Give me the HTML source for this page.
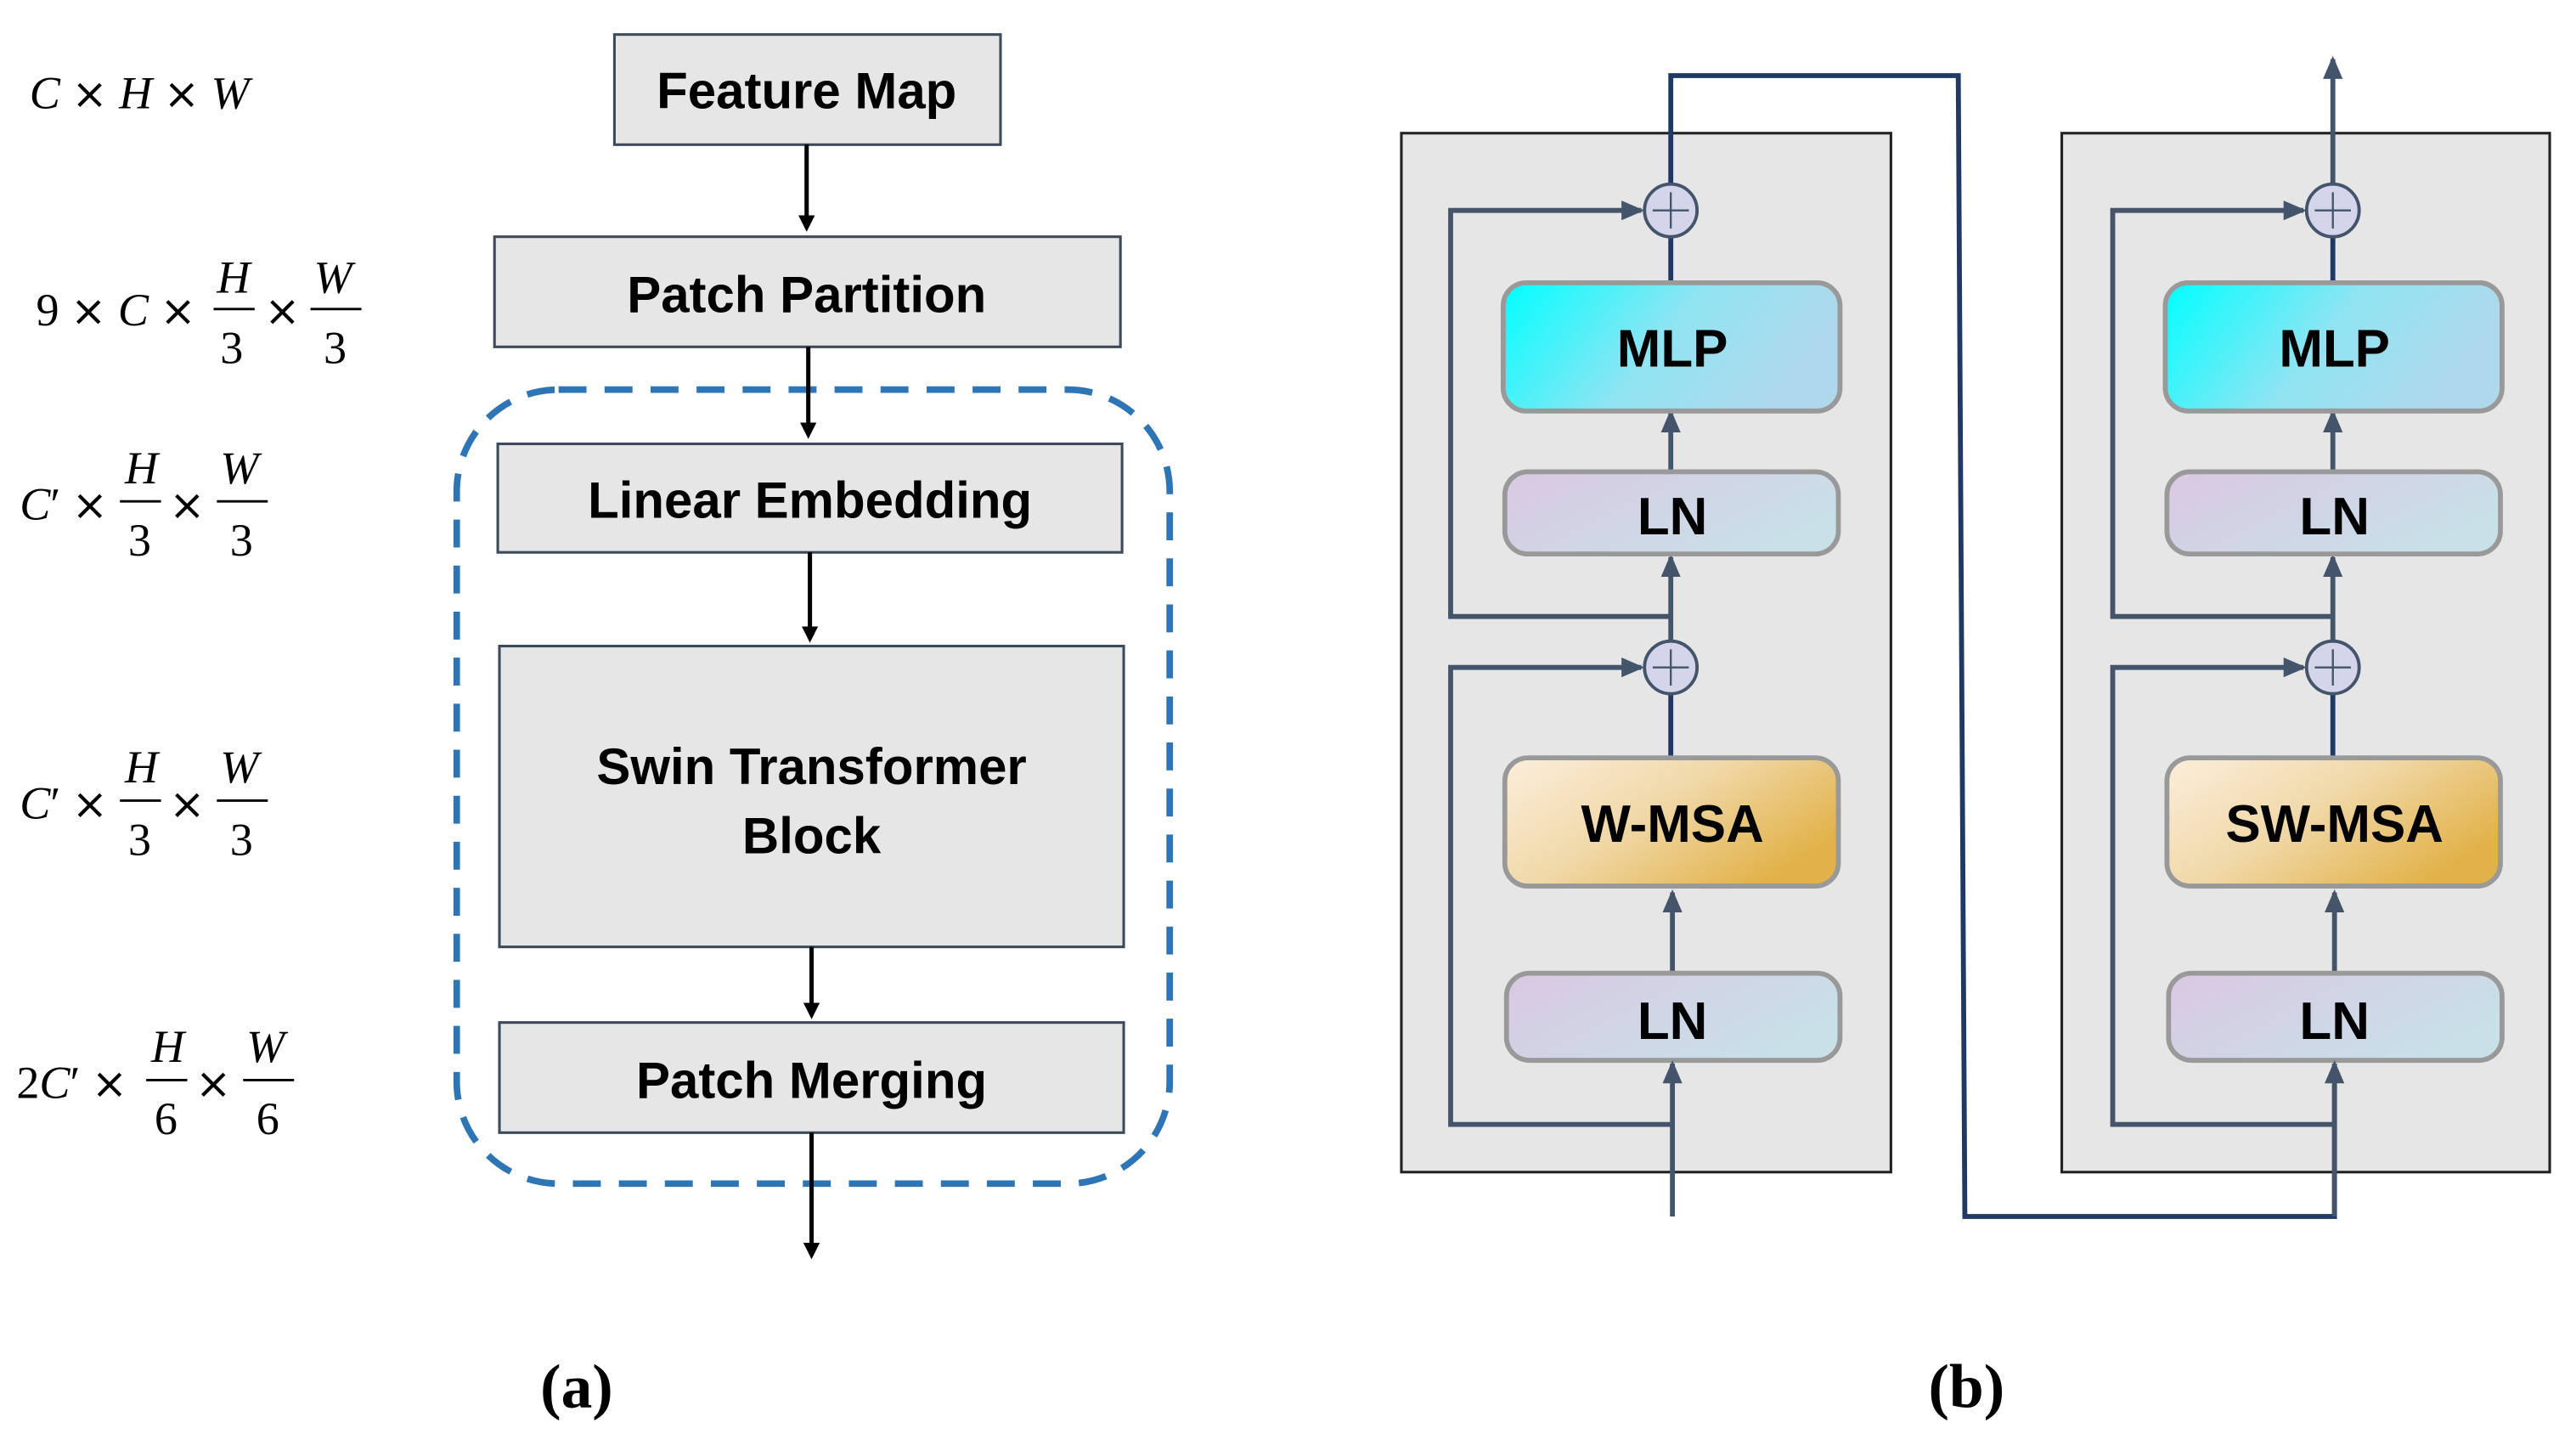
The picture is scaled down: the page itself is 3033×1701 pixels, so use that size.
<!DOCTYPE html>
<html><head><meta charset="utf-8"><style>
html,body{margin:0;padding:0;background:#fff;}
svg{display:block;}
.box{fill:#e6e6e6;stroke:#3d4a5c;stroke-width:1.6;}
.t{font-family:"Liberation Sans","DejaVu Sans",sans-serif;font-size:31px;text-anchor:middle;fill:#000;font-weight:bold;}
.m{font-family:"Liberation Serif",serif;font-size:28px;fill:#000;}
.x{font-family:"DejaVu Sans",sans-serif;font-size:26px;}
.mi{font-style:italic;}
.ln{stroke:#000;stroke-width:2.6;fill:none;}
.g{stroke:#44546a;stroke-width:3;fill:none;}
.nv{stroke:#1f3864;stroke-width:3;fill:none;}
.rb{stroke:#999;stroke-width:3;}
.bt{font-family:"Liberation Sans","DejaVu Sans",sans-serif;font-size:32px;text-anchor:middle;fill:#000;font-weight:bold;}
</style></head><body>
<svg width="3033" height="1701" viewBox="0 0 1568 879" preserveAspectRatio="none" xmlns="http://www.w3.org/2000/svg">
<defs>
<marker id="ab" markerWidth="10" markerHeight="10" refX="5" refY="5" orient="auto" markerUnits="userSpaceOnUse"><path d="M0,0 L10,5 L0,10 z" fill="#000"/></marker>
<marker id="ag" markerWidth="14" markerHeight="14" refX="12" refY="7" orient="auto" markerUnits="userSpaceOnUse"><path d="M0,1 L14,7 L0,13 z" fill="#44546a"/></marker>
<linearGradient id="mlp" x1="0" y1="0" x2="1" y2="0.3"><stop offset="0" stop-color="#00ffff"/><stop offset="0.55" stop-color="#90e4f2"/><stop offset="1" stop-color="#b0d8ec"/></linearGradient>
<linearGradient id="lnG" x1="0" y1="0" x2="1" y2="0.5"><stop offset="0" stop-color="#dac8e2"/><stop offset="1" stop-color="#c8e0e8"/></linearGradient>
<linearGradient id="msa" x1="0" y1="0" x2="1" y2="0.6"><stop offset="0" stop-color="#fbeedc"/><stop offset="0.5" stop-color="#f0d8a8"/><stop offset="1" stop-color="#e2b24a"/></linearGradient>
</defs>

<text class="m mi" x="18" y="66">C <tspan class="x" font-style="normal">×</tspan> H <tspan class="x" font-style="normal">×</tspan> W</text>
<text class="m" x="22" y="198">9 <tspan class="x">×</tspan> <tspan class="mi">C</tspan> <tspan class="x">×</tspan></text>
<text class="m mi" x="132" y="178">H</text><line x1="130" y1="188" x2="155" y2="188" stroke="#000" stroke-width="1.5"/><text class="m" x="134" y="221">3</text>
<text class="m x" x="161" y="198">×</text>
<text class="m mi" x="191" y="178">W</text><line x1="189" y1="188" x2="220" y2="188" stroke="#000" stroke-width="1.5"/><text class="m" x="197" y="221">3</text>

<text class="m" x="12" y="316"><tspan class="mi">C</tspan>′ <tspan class="x">×</tspan></text>
<text class="m mi" x="76" y="294">H</text><line x1="73" y1="305" x2="98" y2="305" stroke="#000" stroke-width="1.5"/><text class="m" x="78" y="338">3</text>
<text class="m x" x="103" y="316">×</text>
<text class="m mi" x="134" y="294">W</text><line x1="132" y1="305" x2="163" y2="305" stroke="#000" stroke-width="1.5"/><text class="m" x="140" y="338">3</text>

<text class="m" x="12" y="498"><tspan class="mi">C</tspan>′ <tspan class="x">×</tspan></text>
<text class="m mi" x="76" y="476">H</text><line x1="73" y1="487" x2="98" y2="487" stroke="#000" stroke-width="1.5"/><text class="m" x="78" y="520">3</text>
<text class="m x" x="103" y="498">×</text>
<text class="m mi" x="134" y="476">W</text><line x1="132" y1="487" x2="163" y2="487" stroke="#000" stroke-width="1.5"/><text class="m" x="140" y="520">3</text>

<text class="m" x="10" y="668">2<tspan class="mi">C</tspan>′ <tspan class="x">×</tspan></text>
<text class="m mi" x="92" y="646">H</text><line x1="89" y1="657" x2="114" y2="657" stroke="#000" stroke-width="1.5"/><text class="m" x="94" y="690">6</text>
<text class="m x" x="119" y="668">×</text>
<text class="m mi" x="150" y="646">W</text><line x1="148" y1="657" x2="179" y2="657" stroke="#000" stroke-width="1.5"/><text class="m" x="156" y="690">6</text>

<rect x="278" y="237" width="434" height="483" rx="62" fill="none" stroke="#2e75b6" stroke-width="4" stroke-dasharray="17 11"/>
<rect class="box" x="374" y="21" width="235" height="67"/><text class="t" x="491" y="66">Feature Map</text>
<rect class="box" x="301" y="144" width="381" height="67"/><text class="t" x="491" y="190">Patch Partition</text>
<rect class="box" x="303" y="270" width="380" height="66"/><text class="t" x="493" y="315">Linear Embedding</text>
<rect class="box" x="304" y="393" width="380" height="183"/><text class="t" x="494" y="477">Swin Transformer</text><text class="t" x="494" y="519">Block</text>
<rect class="box" x="304" y="622" width="380" height="67"/><text class="t" x="494" y="668">Patch Merging</text>
<line class="ln" x1="491" y1="88" x2="491" y2="136" marker-end="url(#ab)"/>
<line class="ln" x1="492" y1="211" x2="492" y2="262" marker-end="url(#ab)"/>
<line class="ln" x1="493" y1="336" x2="493" y2="386" marker-end="url(#ab)"/>
<line class="ln" x1="494" y1="576" x2="494" y2="615" marker-end="url(#ab)"/>
<line class="ln" x1="494" y1="689" x2="494" y2="761" marker-end="url(#ab)"/>
<text x="351" y="856" font-family="Liberation Serif,serif" font-size="38" font-weight="bold" text-anchor="middle">(a)</text>

<rect x="853" y="81" width="298" height="632" fill="#e6e6e6" stroke="#222" stroke-width="1.6"/>
<rect x="1255" y="81" width="297" height="632" fill="#e6e6e6" stroke="#222" stroke-width="1.6"/>

<polyline class="nv" points="1017,112 1017,46 1192,46 1196,740 1421,740 1421,660"/>

<g id="blk">
<polyline class="g" points="1017,375 883,375 883,128 999,128" marker-end="url(#ag)"/>
<polyline class="g" points="1017,684 883,684 883,406 999,406" marker-end="url(#ag)"/>
<line class="g" x1="1017" y1="287" x2="1017" y2="251" marker-end="url(#ag)"/>
<line class="g" x1="1017" y1="390" x2="1017" y2="339" marker-end="url(#ag)"/>
<line class="g" x1="1018" y1="592" x2="1018" y2="543" marker-end="url(#ag)"/>
<line class="nv" x1="1017" y1="144" x2="1017" y2="172"/>
<line class="nv" x1="1017" y1="422" x2="1017" y2="461"/>
<rect class="rb" x="915" y="172" width="205" height="78" rx="14" fill="url(#mlp)"/>
<text class="bt" x="1018" y="223">MLP</text>
<rect class="rb" x="916" y="287" width="203" height="50" rx="14" fill="url(#lnG)"/>
<text class="bt" x="1018" y="325">LN</text>
<rect class="rb" x="917" y="592" width="203" height="53" rx="14" fill="url(#lnG)"/>
<text class="bt" x="1018" y="632">LN</text>
<circle cx="1017" cy="128" r="16" fill="#d4d4ea" stroke="#44546a" stroke-width="2"/>
<path d="M1006,128 H1028 M1017,117 V139" stroke="#44546a" stroke-width="1.2"/>
<circle cx="1017" cy="406" r="16" fill="#d4d4ea" stroke="#44546a" stroke-width="2"/>
<path d="M1006,406 H1028 M1017,395 V417" stroke="#44546a" stroke-width="1.2"/>
</g>
<line class="g" x1="1018" y1="740" x2="1018" y2="647" marker-end="url(#ag)"/>
<rect class="rb" x="916" y="461" width="203" height="78" rx="14" fill="url(#msa)"/>
<text class="bt" x="1018" y="512">W-MSA</text>

<use href="#blk" transform="translate(403,0)"/>
<line class="g" x1="1421" y1="740" x2="1421" y2="647" marker-end="url(#ag)"/>
<rect class="rb" x="1319" y="461" width="203" height="78" rx="14" fill="url(#msa)"/>
<text class="bt" x="1421" y="512">SW-MSA</text>
<line class="g" x1="1420" y1="112" x2="1420" y2="36" marker-end="url(#ag)"/>

<text x="1197" y="856" font-family="Liberation Serif,serif" font-size="38" font-weight="bold" text-anchor="middle">(b)</text>
</svg>
</body></html>
